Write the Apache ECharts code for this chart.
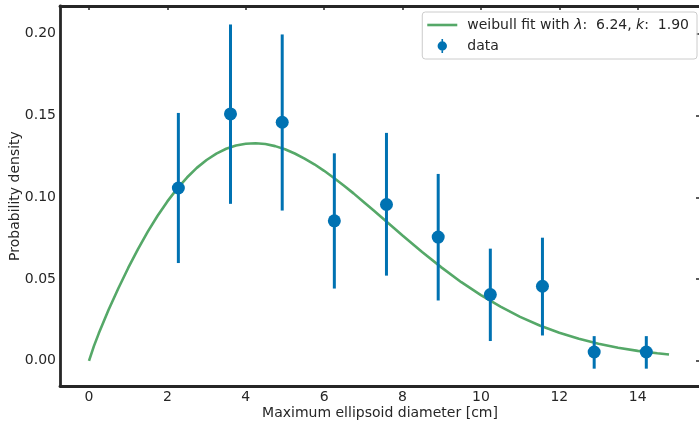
<!DOCTYPE html>
<html>
<head>
<meta charset="utf-8">
<script src="https://cdn.jsdelivr.net/npm/echarts@6/dist/echarts.min.js"></script>
<style>
  html, body { margin: 0; padding: 0; background: #fff; }
  #chart { width: 699px; height: 431px; }
</style>
</head>
<body>
<div id="chart"></div>
<script>
// binned data with error bars
var binX = [2.28, 3.61, 4.93, 6.26, 7.59, 8.91, 10.24, 11.57, 12.89, 14.22];
var density = [0.1057, 0.1510, 0.1459, 0.0856, 0.0956, 0.0757, 0.0405, 0.0456, 0.0054, 0.0054];
var errLow = [0.0598, 0.0960, 0.0919, 0.0442, 0.0521, 0.0369, 0.0121, 0.0155, -0.0048, -0.0048];
var errHigh = [0.1516, 0.2057, 0.1996, 0.1269, 0.1394, 0.1143, 0.0686, 0.0753, 0.0151, 0.0151];

// fitted curve
var fitX = [0, 0.125, 0.25, 0.5, 0.75, 1, 1.25, 1.5, 1.75, 2, 2.25, 2.5, 2.75, 3, 3.25, 3.5, 3.75,
            4, 4.25, 4.5, 4.75, 5, 5.25, 5.5, 5.75, 6, 6.25, 6.5, 6.75, 7, 7.25, 7.5, 7.75, 8,
            8.5, 9, 9.5, 10, 10.5, 11, 11.5, 12, 12.5, 13, 13.5, 14, 14.5, 14.8];
var fitY = [0, 0.0090, 0.0168, 0.0312, 0.0444, 0.0568, 0.0683, 0.0790, 0.0887, 0.0975, 0.1053,
            0.1121, 0.1180, 0.1228, 0.1267, 0.1297, 0.1317, 0.1328, 0.1331, 0.1326, 0.1313,
            0.1294, 0.1268, 0.1237, 0.1202, 0.1162, 0.1118, 0.1072, 0.1024, 0.0973, 0.0922,
            0.0870, 0.0818, 0.0766, 0.0665, 0.0570, 0.0481, 0.0402, 0.0331, 0.0269, 0.0216,
            0.0172, 0.0135, 0.0105, 0.0080, 0.0061, 0.0046, 0.0039];

var xTicks = [0, 2, 4, 6, 8, 10, 12, 14];
var yTicks = [0, 0.05, 0.10, 0.15, 0.20];

var ink = '#262626';
var blue = '#0072B2';
var green = '#55A868';
var font = 'DejaVu Sans';

var myChart = echarts.init(document.getElementById('chart'));

var fitData = fitX.map(function (x, i) { return [x, fitY[i]]; });
var pointData = binX.map(function (x, i) { return [x, density[i]]; });
var barData = binX.map(function (x, i) { return [x, errLow[i], errHigh[i]]; });

var option = {
    animation: false,
    grid: { left: 60, top: 6, width: 640, bottom: 45, containLabel: false, outerBoundsMode: 'none' },
    legend: {
        orient: 'vertical',
        right: 2,
        top: 12,
        padding: [6, 8, 6, 5],
        itemGap: 7,
        itemWidth: 30,
        itemHeight: 14,
        borderColor: '#cccccc',
        borderWidth: 1,
        borderRadius: 3,
        backgroundColor: 'rgba(255,255,255,0.8)',
        textStyle: {
            fontFamily: font, fontSize: 14, color: ink, padding: [0, 0, 0, 5],
            rich: { i: { fontFamily: font, fontSize: 14, fontStyle: 'italic', color: ink } }
        },
        formatter: function (name) {
            if (name === 'fit') return 'weibull fit with {i|λ}:  6.24, {i|k}:  1.90';
            return name;
        },
        data: [
            { name: 'fit', icon: 'path://M0,0h30v2.6h-30z' },
            { name: 'data', icon: 'path://M4.2,0h1.6v14h-1.6zM0.3,7a4.7,4.7 0 1,1 9.4,0a4.7,4.7 0 1,1 -9.4,0z' }
        ]
    },
    xAxis: [{
        type: 'value',
        min: -0.74,
        max: 15.59,
        position: 'bottom',
        name: 'Maximum ellipsoid diameter [cm]',
        nameLocation: 'middle',
        nameGap: 20,
        nameMoveOverlap: false,
        nameTextStyle: { fontFamily: font, fontSize: 14, color: ink },
        axisLine: { show: true, onZero: false, lineStyle: { color: ink, width: 2.8 } },
        axisTick: { show: false },
        axisLabel: { customValues: xTicks, fontFamily: font, fontSize: 14, color: ink, margin: 4 },
        splitLine: { show: false }
    }, {
        type: 'value',
        min: -0.74,
        max: 15.59,
        position: 'top',
        axisLine: { show: true, onZero: false, lineStyle: { color: ink, width: 2.8 } },
        axisTick: { show: true, inside: true, length: 4, customValues: xTicks, lineStyle: { color: ink, width: 1.5 } },
        axisLabel: { show: false },
        splitLine: { show: false }
    }],
    yAxis: [{
        type: 'value',
        min: -0.0154,
        max: 0.217,
        position: 'left',
        name: 'Probability density',
        nameLocation: 'middle',
        nameGap: 38,
        nameMoveOverlap: false,
        nameTextStyle: { fontFamily: font, fontSize: 14, color: ink },
        axisLine: { show: true, onZero: false, lineStyle: { color: ink, width: 2.8 } },
        axisTick: { show: false },
        axisLabel: {
            customValues: yTicks, fontFamily: font, fontSize: 14, color: ink, margin: 4,
            formatter: function (v) { return v.toFixed(2); }
        },
        splitLine: { show: false }
    }, {
        type: 'value',
        min: -0.0154,
        max: 0.217,
        position: 'right',
        axisLine: { show: false, onZero: false },
        axisTick: { show: true, inside: true, length: 4, customValues: yTicks, lineStyle: { color: ink, width: 1.5 } },
        axisLabel: { show: false },
        splitLine: { show: false }
    }],
    series: [{
        name: 'fit',
        type: 'line',
        symbol: 'none',
        data: fitData,
        lineStyle: { color: green, width: 2.6 },
        itemStyle: { color: green },
        z: 2
    }, {
        name: 'data',
        type: 'custom',
        data: barData,
        renderItem: function (params, api) {
            var p0 = api.coord([api.value(0), api.value(1)]);
            var p1 = api.coord([api.value(0), api.value(2)]);
            return {
                type: 'line',
                shape: { x1: p0[0], y1: p0[1], x2: p1[0], y2: p1[1] },
                style: { stroke: blue, lineWidth: 3 }
            };
        },
        itemStyle: { color: blue },
        z: 3
    }, {
        name: 'data',
        type: 'scatter',
        symbol: 'circle',
        symbolSize: 13,
        data: pointData,
        itemStyle: { color: blue, opacity: 1 },
        z: 4
    }]
};

myChart.setOption(option);
</script>
</body>
</html>
